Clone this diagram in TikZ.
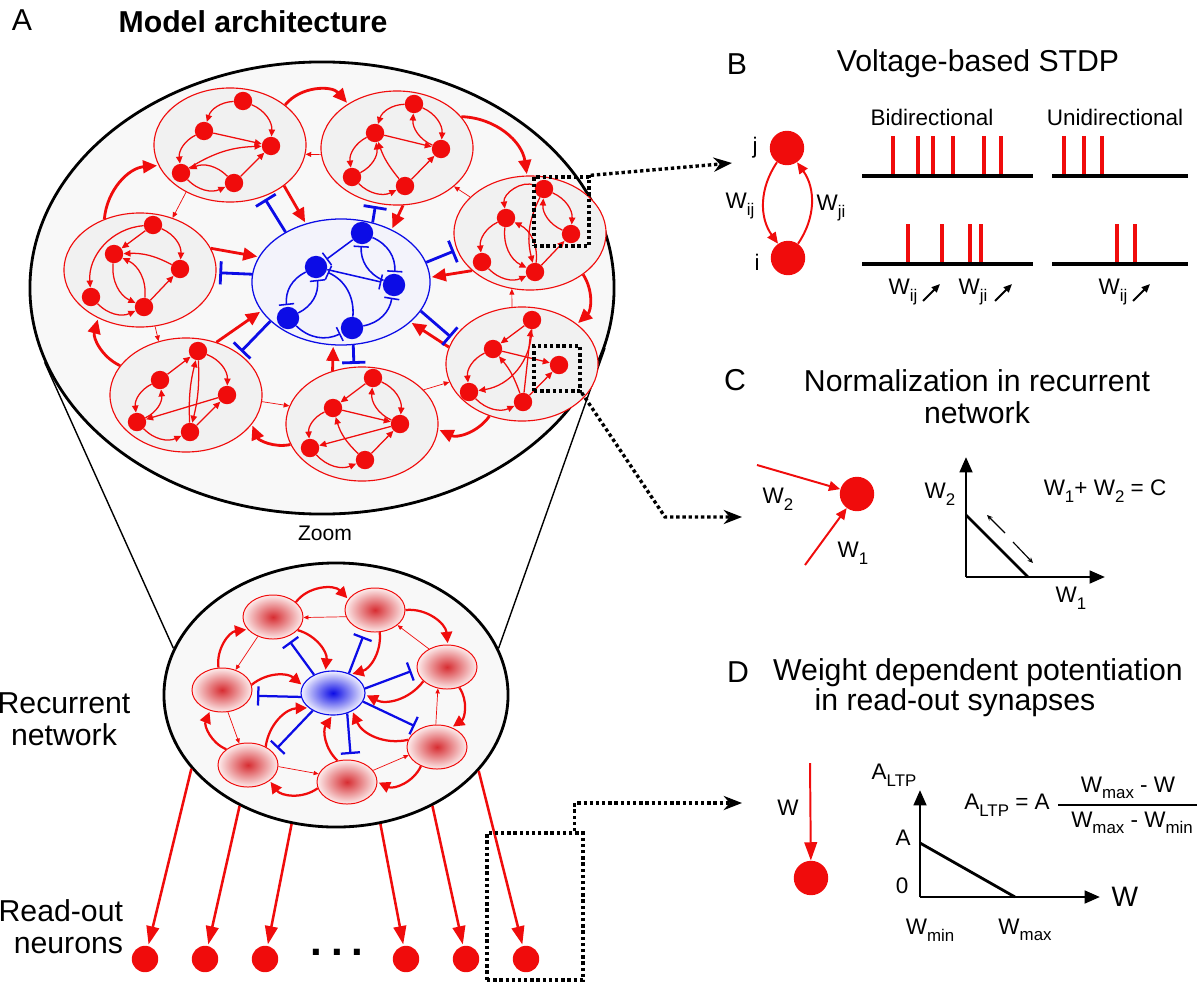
\documentclass[tikz,border=0pt]{standalone}
\usepackage{fontspec}
\setmainfont{Liberation Sans}
\usetikzlibrary{arrows.meta,positioning,calc,shapes.geometric}
\definecolor{nred}{RGB}{240,12,12}
\definecolor{nblue}{RGB}{12,12,230}
\definecolor{bgfill}{RGB}{248,248,248}
\definecolor{clfill}{RGB}{241,241,241}
\definecolor{poolfill}{RGB}{243,243,251}
\definecolor{blobcore}{RGB}{215,45,50}
\definecolor{blobrim}{RGB}{252,236,236}
\definecolor{iblobrim}{RGB}{242,242,255}
\newcommand{\lowsub}[1]{\raisebox{-0.55ex}{\fontsize{12}{12}\selectfont #1}}
\tikzstyle{heading}=[font=\fontsize{21.5}{23}\selectfont]
\tikzstyle{lbl}=[font=\fontsize{16}{19}\selectfont]
\tikzstyle{zoomed}=[ellipse, draw, line width=2pt, fill=bgfill, inner sep=0pt]
\tikzstyle{cluster}=[ellipse, draw=nred, line width=0.8pt, fill=clfill, minimum width=3.8cm, minimum height=2.85cm, inner sep=0pt]
\tikzstyle{excit}=[circle, fill=nred, inner sep=0pt, minimum size=0.46cm]
\tikzstyle{inhib}=[circle, fill=nblue, inner sep=0pt, minimum size=0.56cm]
\tikzstyle{bigcell}=[circle, fill=nred, inner sep=0pt, minimum size=0.86cm]
\tikzstyle{readcell}=[circle, fill=nred, inner sep=0pt, minimum size=0.66cm]
\tikzstyle{blob}=[ellipse, draw=nred, line width=0.7pt, inner color=blobcore, outer color=blobrim, minimum width=1.5cm, minimum height=1.1cm]
\tikzstyle{arcl}=[bend left=35]
\tikzstyle{arcr}=[bend right=35]
\tikzstyle{syn}=[nred, line width=0.9pt, -{Triangle[length=5pt,width=4.5pt]}]
\tikzstyle{thinsyn}=[nred, line width=0.5pt, -{Triangle[length=4pt,width=3.5pt]}]
\tikzstyle{bigsyn}=[nred, line width=2pt, -{Triangle[length=10pt,width=9pt]}, shorten >=1pt]
\tikzstyle{midsyn}=[nred, line width=1.6pt, -{Triangle[length=8pt,width=8pt]}, shorten >=1pt]
\tikzstyle{minisyn}=[nred, line width=0.5pt, -{Triangle[length=3.5pt,width=3pt]}]
\tikzstyle{readsyn}=[nred, line width=1.8pt, -{Triangle[length=13pt,width=9pt]}, shorten >=1pt]
\tikzstyle{bsyn}=[nred, line width=1.4pt, -{Triangle[length=8pt,width=7pt]}]
\tikzstyle{blocker}=[nblue, line width=2pt, -{Bar[width=0.58cm]}, shorten >=2pt]
\tikzstyle{midblock}=[nblue, line width=1.6pt, -{Bar[width=0.48cm]}, shorten >=4pt]
\tikzstyle{ibar}=[nblue, line width=1.1pt, -{Bar[width=0.38cm]}, shorten >=1pt]
\tikzstyle{zoomline}=[line width=2.4pt, dash pattern=on 2.4pt off 2pt]
\tikzstyle{zoombox}=[draw, zoomline, inner sep=0pt]
\tikzstyle{axisarr}=[line width=2pt, -{Triangle[length=11pt,width=9pt]}]
\tikzstyle{tinyarr}=[line width=0.8pt, -{Stealth[length=4pt,width=3.5pt]}]
\tikzstyle{uparr}=[line width=1.4pt, -{Triangle[length=6pt,width=5pt]}]
\tikzstyle{train}=[line width=2.8pt]
\tikzstyle{spike}=[nred, line width=2.2pt]

\begin{document}
\begin{tikzpicture}[x=0.025cm,y=-0.025cm]
\useasboundingbox (0,0) rectangle (1200,985);

\node[heading] (la) at (22,20) {A};
\node[heading, font=\fontsize{21.5}{23}\selectfont\bfseries] (ttl) at (253,22) {Model architecture};
\node[zoomed, minimum width=14.6cm, minimum height=11.3cm] (zoomed) at (322,288) {};
\node[zoomed, minimum width=8.6cm, minimum height=6.6cm] (recnet) at (336,695) {};
\draw[line width=1pt] (zoomed.195) -- (recnet.164);
\draw[line width=1pt] (zoomed.348) -- (recnet.16);
\node[font=\fontsize{15}{17}\selectfont] (zl) at (325,533) {Zoom};

\node[cluster] (cl1) at (230,145) {};
\node[cluster] (cl2) at (397,148) {};
\node[cluster] (cl3) at (530,233) {};
\node[cluster] (cl4) at (140,270) {};
\node[cluster] (cl5) at (522,364) {};
\node[cluster] (cl6) at (186,395) {};
\node[cluster] (cl7) at (362,424) {};
\node[ellipse, draw=nblue, line width=0.9pt, fill=poolfill, minimum width=4.45cm, minimum height=3.15cm] (pool) at (341,282) {};

\node[excit] (n1a) at (243,101) {};
\node[excit] (n1b) at (204,131) {};
\node[excit] (n1c) at (271,146) {};
\node[excit] (n1d) at (181,173) {};
\node[excit] (n1e) at (234,183) {};
\path[syn] (n1a) edge[arcr] (n1b)
    (n1a) edge[arcl] (n1c)
    (n1b) edge (n1c)
    (n1d) edge[bend left=15] (n1c)
    (n1e) edge (n1c)
    (n1b) edge[arcr] (n1d)
    (n1d) edge[arcr] (n1e)
    (n1e) edge[arcr] (n1d);

\node[excit] (n2a) at (414,104) {};
\node[excit] (n2b) at (375,133) {};
\node[excit] (n2c) at (441,149) {};
\node[excit] (n2d) at (352,177) {};
\node[excit] (n2e) at (405,186) {};
\path[syn] (n2a) edge[arcr] (n2b)
    (n2a) edge[arcl] (n2c)
    (n2c) edge[arcl] (n2a)
    (n2b) edge (n2c)
    (n2b) edge[arcr] (n2d)
    (n2d) edge[arcr] (n2b)
    (n2e) edge[bend left=10] (n2b)
    (n2d) edge[arcr] (n2e)
    (n2e) edge (n2c);

\node[excit] (n3a) at (544,189) {};
\node[excit] (n3b) at (506,218) {};
\node[excit] (n3c) at (571,234) {};
\node[excit] (n3d) at (482,262) {};
\node[excit] (n3e) at (535,272) {};
\path[syn] (n3a) edge[arcl] (n3c)
    (n3c) edge[arcl] (n3a)
    (n3a) edge[bend right=60] (n3b)
    (n3a) edge[bend right=20] (n3e)
    (n3b) edge[arcr] (n3d)
    (n3b) edge[arcr] (n3e)
    (n3e) edge[arcr] (n3b)
    (n3d) edge[arcr] (n3e)
    (n3e) edge (n3c);

\node[excit] (n4a) at (153,225) {};
\node[excit] (n4b) at (114,254) {};
\node[excit] (n4c) at (180,269) {};
\node[excit] (n4d) at (91,297) {};
\node[excit] (n4e) at (144,307) {};
\path[syn] (n4a) edge (n4b)
    (n4a) edge[arcl] (n4c)
    (n4c) edge[bend right=15] (n4b)
    (n4a) edge[bend right=45] (n4d)
    (n4b) edge[arcr] (n4e)
    (n4e) edge[arcr] (n4b)
    (n4d) edge[arcr] (n4e)
    (n4e) edge (n4c);

\node[excit] (n5a) at (532,320) {};
\node[excit] (n5b) at (493,349) {};
\node[excit] (n5c) at (559,365) {};
\node[excit] (n5d) at (469,392) {};
\node[excit] (n5e) at (523,402) {};
\path[syn] (n5a) edge (n5b)
    (n5a) edge[bend left=40] (n5d)
    (n5b) edge (n5c)
    (n5b) edge[arcr] (n5d)
    (n5e) edge (n5a)
    (n5e) edge[bend right=10] (n5b)
    (n5d) edge[arcr] (n5e)
    (n5e) edge (n5c);

\node[excit] (n6a) at (198,351) {};
\node[excit] (n6b) at (160,380) {};
\node[excit] (n6c) at (227,395) {};
\node[excit] (n6d) at (137,422) {};
\node[excit] (n6e) at (190,432) {};
\path[syn] (n6b) edge (n6a)
    (n6a) edge[arcl] (n6c)
    (n6a) edge[bend left=8] (n6e)
    (n6e) edge[bend left=8] (n6a)
    (n6b) edge[arcr] (n6d)
    (n6d) edge[arcr] (n6b)
    (n6c) edge (n6d)
    (n6d) edge[arcr] (n6e)
    (n6e) edge (n6c);

\node[excit] (n7a) at (373,378) {};
\node[excit] (n7b) at (333,408) {};
\node[excit] (n7c) at (400,424) {};
\node[excit] (n7d) at (310,448) {};
\node[excit] (n7e) at (365,460) {};
\path[syn] (n7a) edge (n7b)
    (n7a) edge[arcl] (n7c)
    (n7c) edge[arcl] (n7a)
    (n7b) edge (n7c)
    (n7b) edge[arcr] (n7d)
    (n7c) edge (n7d)
    (n7e) edge[bend left=15] (n7b)
    (n7d) edge[arcr] (n7e)
    (n7e) edge (n7c);

\node[inhib] (ip) at (362,233) {};
\node[inhib] (iq) at (316,267) {};
\node[inhib] (ir) at (394,285) {};
\node[inhib] (is) at (288,318) {};
\node[inhib] (it) at (352,328) {};
\path[ibar] (ip) edge (iq)
    (ip) edge[arcl] (ir)
    (ir) edge[arcl] (ip)
    (iq) edge (ir)
    (iq) edge[arcr] (is)
    (is) edge[arcr] (iq)
    (is) edge[arcr] (it)
    (it) edge[arcr] (iq)
    (it) edge[arcr] (ir);

\path[bigsyn] (cl1.36) edge[bend left=50] (cl2.138)
    (cl2.26) edge[bend left=40] (cl3.93)
    (cl3.322) edge[bend left=40] (cl5.36)
    (cl5.238) edge[bend left=40] (cl7.356)
    (cl7.196) edge[bend left=40] (cl6.336)
    (cl6.156) edge[bend left=40] (cl4.229)
    (cl4.125) edge[bend left=40] (cl1.196);
\path[thinsyn] (cl2.185) edge (cl1.353)
    (cl1.227) edge (cl4.58)
    (cl4.285) edge (cl6.117)
    (cl6.355) edge (cl7.166)
    (cl7.29) edge (cl5.194)
    (cl5.100) edge (cl3.252)
    (cl3.149) edge (cl2.326);
\path[bigsyn] (cl1.323) edge (pool.121)
    (cl2.276) edge (pool.46)
    (cl3.213) edge (pool.3)
    (cl4.17) edge (pool.163)
    (cl5.167) edge (pool.330)
    (cl6.60) edge (pool.200)
    (cl7.119) edge (pool.263);
\path[blocker] (pool.138) edge (cl1.303)
    (pool.62) edge (cl2.249)
    (pool.13) edge (cl3.193)
    (pool.175) edge (cl4.358)
    (pool.340) edge (cl5.160)
    (pool.209) edge (cl6.38)
    (pool.281) edge (cl7.98);

\node[blob] (bTL) at (273,617) {};
\node[blob] (bTR) at (375,610) {};
\node[blob] (bR) at (447,667) {};
\node[blob] (bBR) at (437,747) {};
\node[blob] (bB) at (347,782) {};
\node[blob] (bBL) at (248,765) {};
\node[blob] (bL) at (222,690) {};
\node[ellipse, draw=nblue, line width=0.8pt, inner color=nblue, outer color=iblobrim, minimum width=1.6cm, minimum height=1.1cm] (bC) at (333,693) {};
\path[midsyn] (bTL.33) edge[bend left=50] (bTR.158)
    (bTR.0) edge[bend left=45] (bR.88)
    (bR.301) edge[bend left=45] (bBR.53)
    (bBR.230) edge[bend left=45] (bB.0)
    (bB.192) edge[bend left=45] (bBL.324)
    (bBL.144) edge[bend left=45] (bL.240)
    (bL.99) edge[bend left=45] (bTL.206);
\path[minisyn] (bTR.193) edge (bTL.359)
    (bTL.232) edge (bL.56)
    (bL.285) edge (bBL.112)
    (bBL.357) edge (bB.164)
    (bB.24) edge (bBR.196)
    (bBR.93) edge (bR.247)
    (bR.135) edge (bTR.326);
\path[midsyn] (bTL.332) edge[bend left=40] (bC.109)
    (bTR.282) edge[bend left=40] (bC.46)
    (bR.211) edge[bend left=40] (bC.357)
    (bBR.166) edge[bend left=40] (bC.317)
    (bB.114) edge[bend left=40] (bC.268)
    (bBL.46) edge[bend left=40] (bC.211)
    (bL.10) edge[bend left=40] (bC.166);
\path[midblock] (bC.136) edge (bTL.304)
    (bC.51) edge (bTR.245)
    (bC.8) edge (bR.184)
    (bC.344) edge (bBR.133)
    (bC.305) edge (bB.80)
    (bC.221) edge (bBL.27)
    (bC.187) edge (bL.349);

\node[heading, align=center] (lrec) at (64,719) {Recurrent\\network};
\node[heading, align=right, anchor=east] (lread) at (128,927) {Read-out\\neurons};
\node[readcell] (r1) at (145,959) {};
\node[readcell] (r2) at (205,959) {};
\node[readcell] (r3) at (265,959) {};
\node[readcell] (r4) at (406,959) {};
\node[readcell] (r5) at (466,959) {};
\node[readcell] (r6) at (526,959) {};
\node[font=\fontsize{30}{30}\selectfont\bfseries] (dots) at (337,952) {.\hspace{0.2em}.\hspace{0.2em}.};
\path[readsyn] (recnet.207) edge (r1)
    (recnet.229) edge (r2)
    (recnet.251) edge (r3)
    (recnet.289) edge (r4)
    (recnet.311) edge (r5)
    (recnet.332) edge (r6);

\node[heading] (lb) at (737,64) {B};
\node[heading] (tb) at (978,64) {Voltage-based STDP};
\node[bigcell] (nj) at (787,148) {};
\node[bigcell] (ni) at (788,258) {};
\node[lbl] (lj) at (755,148) {j};
\node[lbl] (li) at (757,262) {i};
\path[bsyn] (nj.235) edge[bend right=35] (ni.125)
    (ni.55) edge[bend right=35] (nj.305);
\node[lbl] (wij) at (740,206) {W\lowsub{ij}};
\node[lbl] (wji) at (831,208) {W\lowsub{ji}};
\node[lbl] (bidi) at (932,117) {Bidirectional};
\node[lbl] (unid) at (1115,117) {Unidirectional};
\draw[train] (862,176) -- (1033,176);
\draw[train] (1052,176) -- (1188,176);
\draw[train] (862,264) -- (1033,264);
\draw[train] (1052,264) -- (1188,264);
\foreach \sx in {893,918,933,953,984,1001,1064,1084,1102}
    \draw[spike] (\sx,174) -- (\sx,136);
\foreach \sx in {908,942,970,981,1117,1135}
    \draw[spike] (\sx,262) -- (\sx,224);
\node[lbl] (wb1) at (903,292) {W\lowsub{ij}};
\node[lbl] (wb2) at (973,292) {W\lowsub{ji}};
\node[lbl] (wb3) at (1113,292) {W\lowsub{ij}};
\draw[uparr] ($(wb1)+(20,9)$) -- ++(17,-17);
\draw[uparr] ($(wb2)+(22,9)$) -- ++(17,-17);
\draw[uparr] ($(wb3)+(20,9)$) -- ++(17,-17);

\node[heading] (lc) at (735,380) {C};
\node[heading, align=center] (tc) at (977,397) {Normalization in recurrent\\network};
\node[bigcell] (nc) at (857,494) {};
\coordinate (w2s) at (757,465);
\coordinate (w1s) at (805,565);
\path[bsyn] (w2s) edge (nc)
    (w1s) edge (nc);
\node[lbl] (cw2) at (778,499) {W\lowsub{2}};
\node[lbl] (cw1) at (853,553) {W\lowsub{1}};
\coordinate (oc) at (966,577);
\draw[axisarr] (oc) -- (966,457);
\draw[axisarr] (oc) -- (1105,577);
\draw[line width=2pt] (966,515) -- (1028,577);
\draw[tinyarr] (1005,533) -- (987,515);
\draw[tinyarr] (1013,542) -- (1033,563);
\node[lbl] (ax2) at (940,494) {W\lowsub{2}};
\node[lbl] (sumc) at (1105,491) {W\lowsub{1}+ W\lowsub{2} = C};
\node[lbl] (ax1) at (1071,598) {W\lowsub{1}};

\node[heading] (ld) at (738,672) {D};
\node[heading] (td1) at (978,673) {Weight dependent potentiation};
\node[heading] (td2) at (955,703) {in read-out synapses};
\coordinate (wds) at (810,763);
\node[bigcell] (nd) at (811,878) {};
\path[bsyn, -{Triangle[length=13pt,width=9pt]}] (wds) edge (nd);
\node[lbl] (dw) at (788,808) {W};
\coordinate (od) at (920,897);
\draw[axisarr] (od) -- (920,790);
\draw[axisarr] (od) -- (1100,897);
\draw[line width=2pt] (920,843) -- (1015,897);
\node[lbl] (altp) at (894,775) {A\lowsub{LTP}};
\node[lbl] (da) at (903,838) {A};
\node[lbl] (dzero) at (902,886) {0};
\node[font=\fontsize{20}{24}\selectfont] (dwx) at (1125,897) {W};
\node[lbl] (wmin) at (930,930) {W\lowsub{min}};
\node[lbl] (wmax) at (1025,930) {W\lowsub{max}};
\node[lbl] (rule) at (1007,805) {A\lowsub{LTP} = A};
\node[lbl] (num) at (1128,788) {W\lowsub{max} - W};
\node[lbl] (den) at (1132,823) {W\lowsub{max} - W\lowsub{min}};
\draw[line width=1.4pt] (1058,805) -- (1197,805);

\node[zoombox, minimum width=1.375cm, minimum height=1.725cm] (zb1) at (561.5,211.5) {};
\node[zoombox, minimum width=1.15cm, minimum height=1.125cm] (zb2) at (557,368.5) {};
\node[zoombox, minimum width=2.4cm, minimum height=3.675cm] (zb3) at (535,906.5) {};
\coordinate (tob) at (732,163);
\coordinate (bendc) at (665,517);
\coordinate (toc) at (742,517);
\coordinate (tod) at (742,803);
\draw[zoomline, -{Stealth[length=13pt,width=10pt]}] (zb1.north east) -- (tob);
\draw[zoomline, -{Stealth[length=13pt,width=10pt]}] (zb2.south east) -- (bendc) -- (toc);
\draw[zoomline, -{Stealth[length=13pt,width=10pt]}] ($(zb3.north east)+(-10,0)$) |- (tod);
\end{tikzpicture}
\end{document}
